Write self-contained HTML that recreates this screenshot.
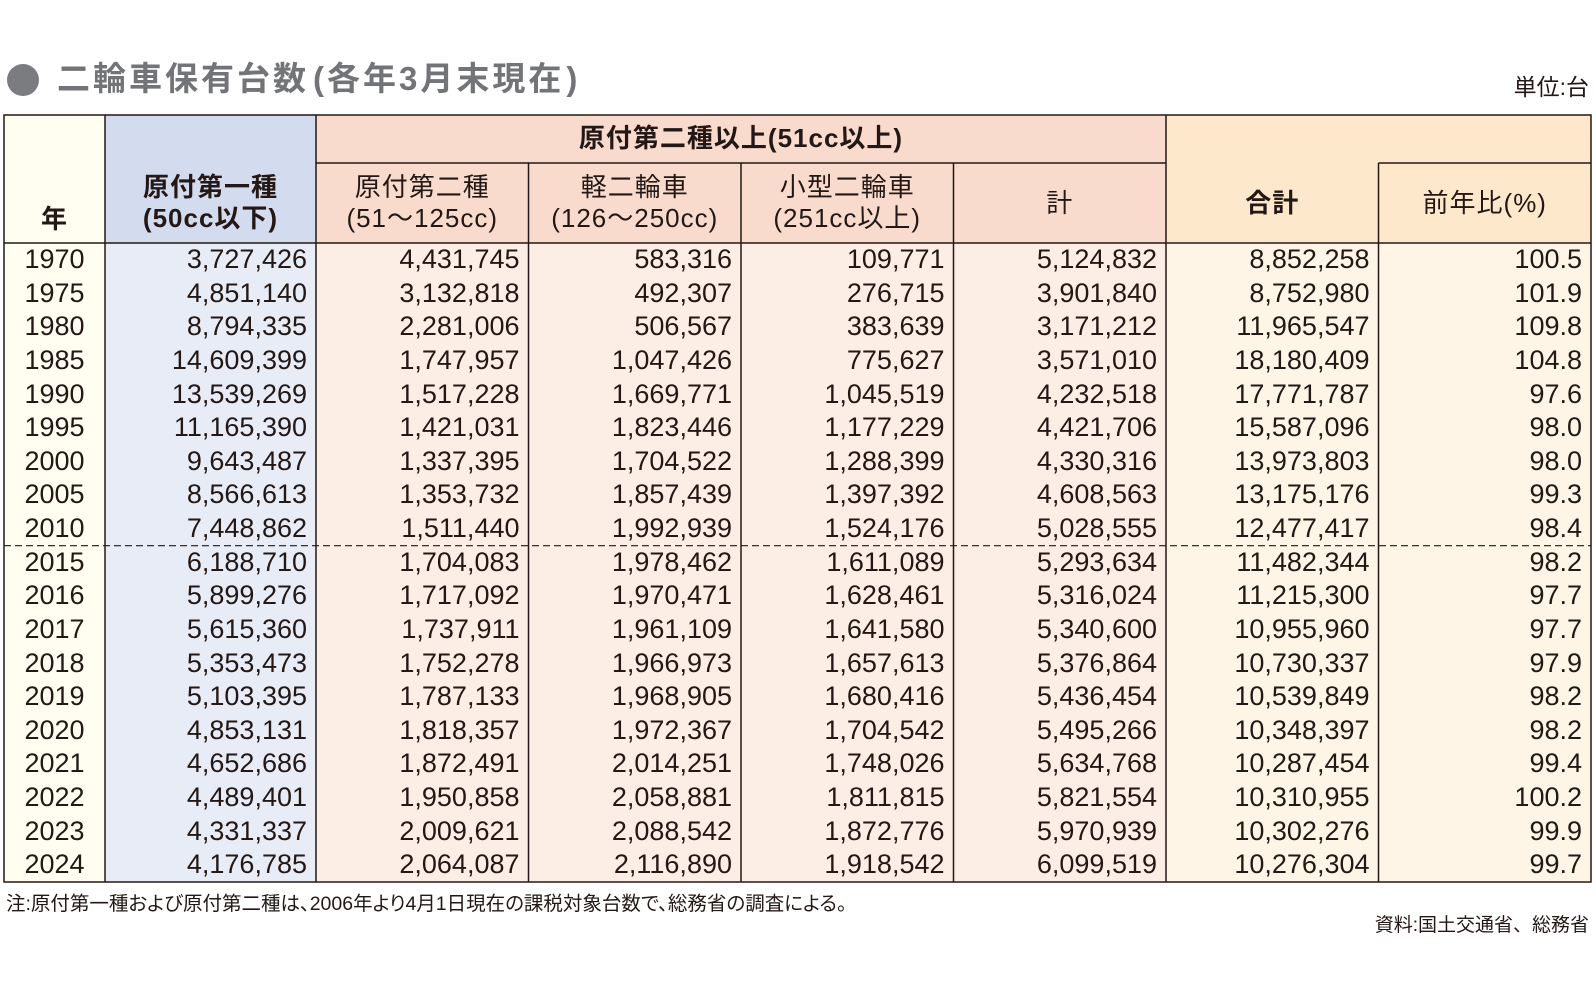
<!DOCTYPE html>
<html><head><meta charset="utf-8">
<style>
*{margin:0;padding:0;box-sizing:border-box}
html,body{width:1596px;height:997px;background:#fff;overflow:hidden}
body{position:relative;font-family:"Liberation Sans","Noto Sans CJK JP",sans-serif;color:#231815}
.bg{position:absolute}
.h{position:absolute;text-align:center;font-size:26px;letter-spacing:1px;line-height:31px;white-space:nowrap;font-weight:400}
.b{font-weight:700}
#rows{position:absolute;left:4px;top:243px;width:1587px}
.r{display:flex;height:33.6316px;line-height:32px;font-size:27px}
.r div{text-align:right;padding-right:9px;white-space:nowrap;width:212.5px}
.r div:first-child{text-align:center;padding-right:0;width:101px}
.r div:nth-child(2){width:211px}
</style></head><body>

<!-- title -->
<div style="position:absolute;left:7px;top:64px;width:32px;height:32px;border-radius:50%;background:#7b7c80"></div>
<div style="position:absolute;left:57px;top:61px;font-size:33px;line-height:35px;font-weight:700;color:#737477;letter-spacing:3px;white-space:nowrap">二輪車保有台数<span style="margin-left:4px">(</span>各年3月末現在<span style="margin-left:2px">)</span></div>
<div style="position:absolute;right:7px;top:73px;font-size:23px;line-height:29px;white-space:nowrap">単位:台</div>

<!-- backgrounds -->
<div class="bg" style="left:4px;top:115px;width:101px;height:767px;background:#fffef1"></div>
<div class="bg" style="left:105px;top:115px;width:211px;height:128px;background:#d3dbee"></div>
<div class="bg" style="left:105px;top:243px;width:211px;height:639px;background:#e8ecf6"></div>
<div class="bg" style="left:316px;top:115px;width:850px;height:128px;background:#f9dbcd"></div>
<div class="bg" style="left:316px;top:243px;width:850px;height:639px;background:#fdeee5"></div>
<div class="bg" style="left:1166px;top:115px;width:425px;height:128px;background:#fde8cc"></div>
<div class="bg" style="left:1166px;top:243px;width:425px;height:639px;background:#fef5e6"></div>

<!-- header text -->
<div class="h b" style="left:4px;width:101px;top:204px">年</div>
<div class="h b" style="left:105px;width:211px;top:172px">原付第一種<br>(50cc以下)</div>
<div class="h b" style="left:316px;width:850px;top:123px">原付第二種以上(51cc以上)</div>
<div class="h" style="left:316px;width:212.5px;top:172px">原付第二種<br>(51〜125cc)</div>
<div class="h" style="left:528.5px;width:212.5px;top:172px">軽二輪車<br>(126〜250cc)</div>
<div class="h" style="left:741px;width:212.5px;top:172px">小型二輪車<br>(251cc以上)</div>
<div class="h" style="left:953.5px;width:212.5px;top:188px">計</div>
<div class="h b" style="left:1166px;width:212.5px;top:188px">合計</div>
<div class="h" style="left:1378.5px;width:212.5px;top:188px">前年比(%)</div>

<!-- body rows -->
<div id="rows">
<div class="r"><div>1970</div><div>3,727,426</div><div>4,431,745</div><div>583,316</div><div>109,771</div><div>5,124,832</div><div>8,852,258</div><div>100.5</div></div>
<div class="r"><div>1975</div><div>4,851,140</div><div>3,132,818</div><div>492,307</div><div>276,715</div><div>3,901,840</div><div>8,752,980</div><div>101.9</div></div>
<div class="r"><div>1980</div><div>8,794,335</div><div>2,281,006</div><div>506,567</div><div>383,639</div><div>3,171,212</div><div>11,965,547</div><div>109.8</div></div>
<div class="r"><div>1985</div><div>14,609,399</div><div>1,747,957</div><div>1,047,426</div><div>775,627</div><div>3,571,010</div><div>18,180,409</div><div>104.8</div></div>
<div class="r"><div>1990</div><div>13,539,269</div><div>1,517,228</div><div>1,669,771</div><div>1,045,519</div><div>4,232,518</div><div>17,771,787</div><div>97.6</div></div>
<div class="r"><div>1995</div><div>11,165,390</div><div>1,421,031</div><div>1,823,446</div><div>1,177,229</div><div>4,421,706</div><div>15,587,096</div><div>98.0</div></div>
<div class="r"><div>2000</div><div>9,643,487</div><div>1,337,395</div><div>1,704,522</div><div>1,288,399</div><div>4,330,316</div><div>13,973,803</div><div>98.0</div></div>
<div class="r"><div>2005</div><div>8,566,613</div><div>1,353,732</div><div>1,857,439</div><div>1,397,392</div><div>4,608,563</div><div>13,175,176</div><div>99.3</div></div>
<div class="r"><div>2010</div><div>7,448,862</div><div>1,511,440</div><div>1,992,939</div><div>1,524,176</div><div>5,028,555</div><div>12,477,417</div><div>98.4</div></div>
<div class="r"><div>2015</div><div>6,188,710</div><div>1,704,083</div><div>1,978,462</div><div>1,611,089</div><div>5,293,634</div><div>11,482,344</div><div>98.2</div></div>
<div class="r"><div>2016</div><div>5,899,276</div><div>1,717,092</div><div>1,970,471</div><div>1,628,461</div><div>5,316,024</div><div>11,215,300</div><div>97.7</div></div>
<div class="r"><div>2017</div><div>5,615,360</div><div>1,737,911</div><div>1,961,109</div><div>1,641,580</div><div>5,340,600</div><div>10,955,960</div><div>97.7</div></div>
<div class="r"><div>2018</div><div>5,353,473</div><div>1,752,278</div><div>1,966,973</div><div>1,657,613</div><div>5,376,864</div><div>10,730,337</div><div>97.9</div></div>
<div class="r"><div>2019</div><div>5,103,395</div><div>1,787,133</div><div>1,968,905</div><div>1,680,416</div><div>5,436,454</div><div>10,539,849</div><div>98.2</div></div>
<div class="r"><div>2020</div><div>4,853,131</div><div>1,818,357</div><div>1,972,367</div><div>1,704,542</div><div>5,495,266</div><div>10,348,397</div><div>98.2</div></div>
<div class="r"><div>2021</div><div>4,652,686</div><div>1,872,491</div><div>2,014,251</div><div>1,748,026</div><div>5,634,768</div><div>10,287,454</div><div>99.4</div></div>
<div class="r"><div>2022</div><div>4,489,401</div><div>1,950,858</div><div>2,058,881</div><div>1,811,815</div><div>5,821,554</div><div>10,310,955</div><div>100.2</div></div>
<div class="r"><div>2023</div><div>4,331,337</div><div>2,009,621</div><div>2,088,542</div><div>1,872,776</div><div>5,970,939</div><div>10,302,276</div><div>99.9</div></div>
<div class="r"><div>2024</div><div>4,176,785</div><div>2,064,087</div><div>2,116,890</div><div>1,918,542</div><div>6,099,519</div><div>10,276,304</div><div>99.7</div></div>
</div>

<!-- grid lines -->
<svg width="1596" height="997" style="position:absolute;left:0;top:0" xmlns="http://www.w3.org/2000/svg">
<g stroke="#231815" stroke-width="1.5" fill="none">
<rect x="4" y="115" width="1587" height="767"/>
<line x1="105" y1="115" x2="105" y2="882"/>
<line x1="316" y1="115" x2="316" y2="882"/>
<line x1="528.5" y1="163" x2="528.5" y2="882"/>
<line x1="741" y1="163" x2="741" y2="882"/>
<line x1="953.5" y1="163" x2="953.5" y2="882"/>
<line x1="1166" y1="115" x2="1166" y2="882"/>
<line x1="1378.5" y1="163" x2="1378.5" y2="882"/>
<line x1="316" y1="163" x2="1166" y2="163"/>
<line x1="1378.5" y1="163" x2="1591" y2="163"/>
<line x1="4" y1="243" x2="1591" y2="243"/>
<line x1="4" y1="545.7" x2="1591" y2="545.7" stroke-width="1.2" stroke-dasharray="7 4"/>
</g>
</svg>

<!-- footnotes -->
<div style="position:absolute;left:6px;top:891px;font-size:19.5px;line-height:26px;white-space:nowrap;font-feature-settings:'palt'">注:原付第一種および原付第二種は、2006年より4月1日現在の課税対象台数で、総務省の調査による。</div>
<div style="position:absolute;right:7px;top:913px;font-size:19px;line-height:26px;white-space:nowrap">資料:国土交通省、総務省</div>

</body></html>
